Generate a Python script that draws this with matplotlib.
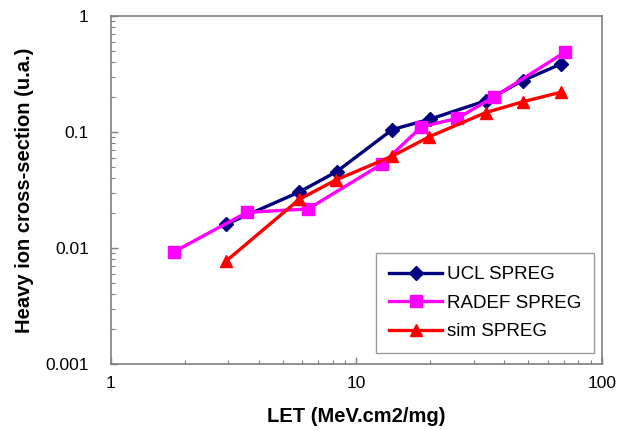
import matplotlib
matplotlib.use("Agg")
import matplotlib.pyplot as plt
from matplotlib.ticker import FixedLocator, FixedFormatter, LogLocator, NullFormatter

plt.rcParams['font.family'] = ['Liberation Sans', 'DejaVu Sans']

# Data
ucl_x = [2.94, 5.85, 8.3, 14.0, 19.9, 33.7, 47.5, 68.1]
ucl_y = [0.016, 0.0304, 0.0455, 0.105, 0.129, 0.186, 0.277, 0.386]

radef_x = [1.81, 3.58, 6.35, 12.7, 18.4, 25.7, 36.4, 70.9]
radef_y = [0.0093, 0.0203, 0.0217, 0.053, 0.111, 0.131, 0.201, 0.49]

sim_x = [2.94, 5.85, 8.25, 14.0, 19.8, 33.6, 47.5, 67.9]
sim_y = [0.0077, 0.0263, 0.0386, 0.062, 0.091, 0.147, 0.182, 0.22]

series_labels = ["UCL SPREG", "RADEF SPREG", "sim SPREG"]
x_ticks = [1, 10, 100]
x_tick_labels = ["1", "10", "100"]
y_ticks = [0.001, 0.01, 0.1, 1]
y_tick_labels = ["0.001", "0.01", "0.1", "1"]

fig = plt.figure(figsize=(6.31, 4.30), dpi=100)
ax = fig.add_axes([0.1759, 0.1535, 0.954 - 0.1759, 0.9628 - 0.1535])

ax.plot(ucl_x, ucl_y, color='#000080', lw=2.4, marker='D', ms=7.5, label=series_labels[0])
ax.plot(radef_x, radef_y, color='#FF00FF', lw=2.4, marker='s', ms=8, label=series_labels[1])
ax.plot(sim_x, sim_y, color='#FF0000', lw=2.4, marker='^', ms=9, label=series_labels[2])

ax.set_xscale('log')
ax.set_yscale('log')
ax.set_xlim(1, 100)
ax.set_ylim(0.001, 1)

ax.xaxis.set_major_locator(FixedLocator(x_ticks))
ax.xaxis.set_major_formatter(FixedFormatter(x_tick_labels))
ax.yaxis.set_major_locator(FixedLocator(y_ticks))
ax.yaxis.set_major_formatter(FixedFormatter(y_tick_labels))
ax.xaxis.set_minor_locator(LogLocator(base=10, subs=range(2, 10)))
ax.yaxis.set_minor_locator(LogLocator(base=10, subs=range(2, 10)))
ax.xaxis.set_minor_formatter(NullFormatter())
ax.yaxis.set_minor_formatter(NullFormatter())

ax.tick_params(which='major', direction='in', length=5, width=1, color='#808080',
               labelsize=12.5)
ax.tick_params(axis='y', which='major', pad=16)
ax.tick_params(axis='x', which='major', pad=9)
ax.tick_params(which='minor', direction='in', length=3, width=0.8, color='#808080')

for s in ax.spines.values():
    s.set_color('#808080')
    s.set_linewidth(1.2)

ax.set_xlabel("LET (MeV.cm2/mg)", fontsize=14.5, fontweight='bold', labelpad=11)
ax.set_ylabel("Heavy ion cross-section (u.a.)", fontsize=14.5, fontweight='bold', labelpad=8)

leg = ax.legend(loc='lower right', bbox_to_anchor=(0.984, 0.031), fontsize=13.5,
                frameon=True, fancybox=False, handlelength=2.8, borderpad=0.7,
                labelspacing=0.6, handletextpad=0.25, borderaxespad=0)
leg.get_frame().set_edgecolor('#808080')
leg.get_frame().set_linewidth(1.0)

fig.savefig("out.png", dpi=100)
